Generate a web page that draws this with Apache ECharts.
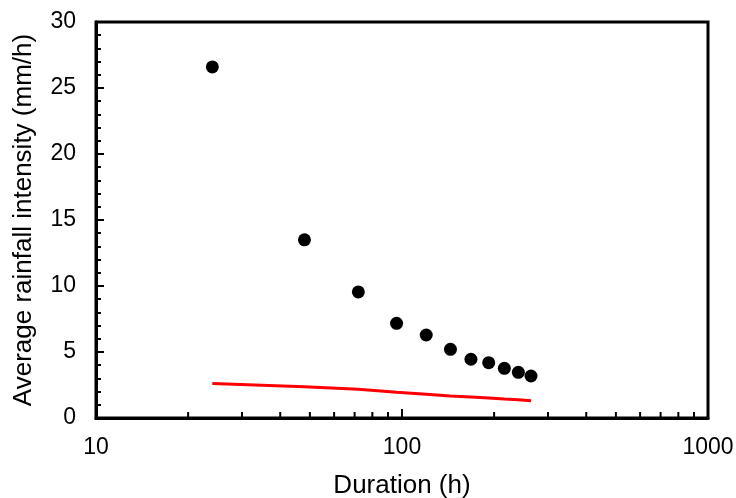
<!DOCTYPE html>
<html><head><meta charset="utf-8">
<script src="https://cdn.jsdelivr.net/npm/echarts@6/dist/echarts.min.js"></script>
<style>html,body{margin:0;padding:0;background:#fff}#c{width:736px;height:498px}</style>
</head><body><div id="c"></div>
<script>
const durations = [24, 48, 72, 96, 120, 144, 168, 192, 216, 240, 264];
const observed = [26.6, 13.5, 9.55, 7.17, 6.29, 5.20, 4.45, 4.19, 3.76, 3.46, 3.18];
const threshold = [2.62, 2.37, 2.17, 1.95, 1.80, 1.67, 1.59, 1.52, 1.44, 1.39, 1.31];
const xMinorTicks = [20, 30, 40, 50, 60, 70, 80, 90, 200, 300, 400, 500, 600, 700, 800, 900];
const xMajorTicks = [100];

const font = 'Liberation Sans, Arial, sans-serif';
const chart = echarts.init(document.getElementById('c'));
chart.setOption({
  animation: false,
  grid: { left: 96, right: 28, top: 22, bottom: 80, show: true, borderColor: '#000', borderWidth: 3,
          containLabel: false, outerBoundsMode: 'none' },
  xAxis: {
    type: 'log', logBase: 10, min: 10, max: 1000,
    name: 'Duration (h)', nameLocation: 'middle', nameGap: 55,
    nameTextStyle: { fontFamily: font, fontSize: 26, color: '#000' },
    axisLine: { show: true, lineStyle: { color: '#000', width: 3 } },
    axisTick: { show: false },
    axisLabel: { fontFamily: font, fontSize: 23, color: '#000', margin: 18,
                 formatter: v => String(Math.round(v)) },
    splitLine: { show: false }
  },
  yAxis: {
    type: 'value', min: 0, max: 30, interval: 5,
    name: 'Average rainfall intensity (mm/h)', nameLocation: 'middle', nameGap: 59,
    nameTextStyle: { fontFamily: font, fontSize: 26, color: '#000' },
    axisLine: { show: true, lineStyle: { color: '#000', width: 3 } },
    axisTick: { show: true, inside: true, length: 8, lineStyle: { color: '#000', width: 2 } },
    minorTick: { show: true, splitNumber: 5, length: 5, lineStyle: { color: '#000', width: 2 } },
    axisLabel: { fontFamily: font, fontSize: 23, color: '#000', margin: 20 },
    splitLine: { show: false }
  },
  series: [
    {
      type: 'scatter', clip: false, silent: true,
      data: xMinorTicks.map(v => [v, 0]),
      symbol: 'rect', symbolSize: [2, 6], symbolOffset: [0, -3],
      itemStyle: { color: '#000', opacity: 1 }
    },
    {
      type: 'scatter', clip: false, silent: true,
      data: xMajorTicks.map(v => [v, 0]),
      symbol: 'rect', symbolSize: [2, 9], symbolOffset: [0, -4.5],
      itemStyle: { color: '#000', opacity: 1 }
    },
    {
      type: 'line', data: durations.map((d, i) => [d, threshold[i]]),
      showSymbol: false, symbol: 'none',
      lineStyle: { color: '#ff0000', width: 3 }
    },
    {
      type: 'scatter', data: durations.map((d, i) => [d, observed[i]]),
      symbol: 'circle', symbolSize: 13,
      itemStyle: { color: '#000', opacity: 1 }
    }
  ]
});
</script>
</body></html>
